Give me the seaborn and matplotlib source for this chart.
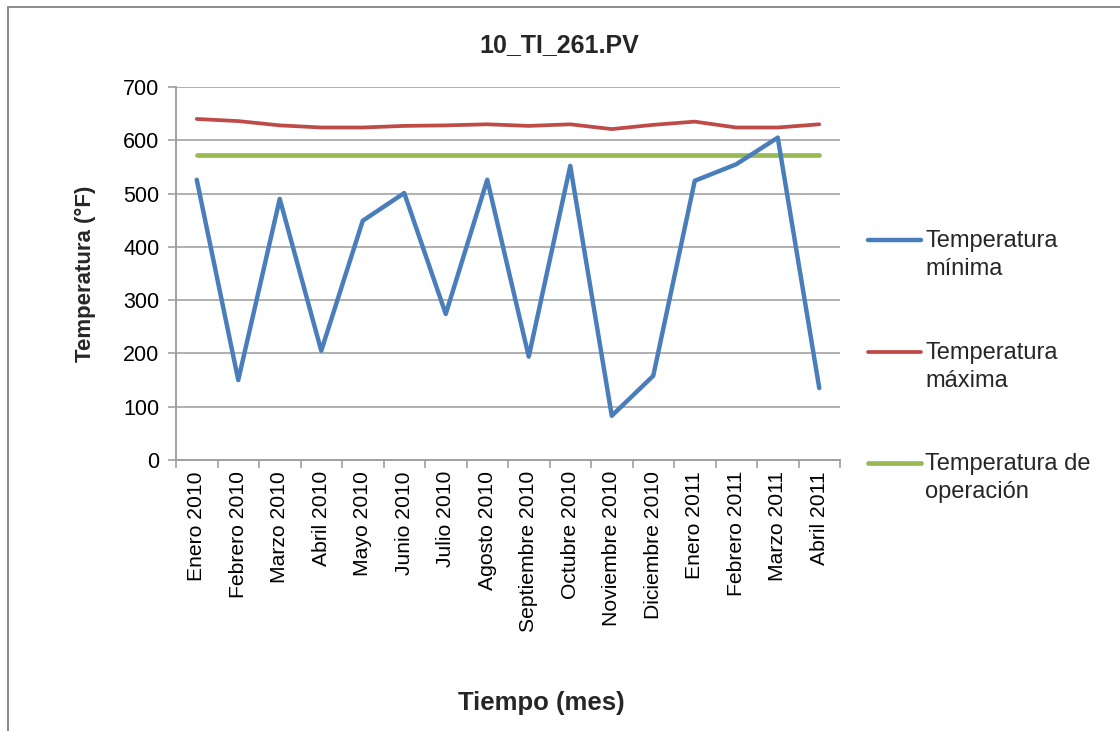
import matplotlib
matplotlib.use("Agg")
import matplotlib.pyplot as plt
from matplotlib.lines import Line2D
from matplotlib.patches import Rectangle
import seaborn as sns
import pandas as pd

# Monthly readings for tag 10_TI_261.PV
meses = ["Enero 2010", "Febrero 2010", "Marzo 2010", "Abril 2010", "Mayo 2010",
         "Junio 2010", "Julio 2010", "Agosto 2010", "Septiembre 2010",
         "Octubre 2010", "Noviembre 2010", "Diciembre 2010", "Enero 2011",
         "Febrero 2011", "Marzo 2011", "Abril 2011"]
temp_minima = [526, 150, 490, 205, 449, 501, 274, 526, 194, 552, 83, 158,
               524, 555, 605, 135]
temp_maxima = [640, 636, 628, 624, 624, 627, 628, 630, 627, 630, 621, 629,
               635, 624, 624, 630]
temp_operacion = [573] * len(meses)

series_names = ["Temperatura\nmínima", "Temperatura\nmáxima",
                "Temperatura de\noperación"]
series_colors = ["#4a7ebb", "#be4b48", "#98b954"]
series_widths = [3.2, 2.7, 3.4]

y_ticks = [0, 100, 200, 300, 400, 500, 600, 700]

df = pd.DataFrame({
    "mes": meses * 3,
    "idx": list(range(len(meses))) * 3,
    "valor": temp_minima + temp_maxima + temp_operacion,
    "serie": ([series_names[0]] * len(meses) + [series_names[1]] * len(meses)
              + [series_names[2]] * len(meses)),
})

sns.set_theme(style="white")
plt.rcParams["font.family"] = ["Liberation Sans", "DejaVu Sans"]

W, H = 1120, 731
fig = plt.figure(figsize=(W / 100, H / 100), dpi=100)
ax = fig.add_axes([176 / W, 1 - 460 / H, (840 - 176) / W, (460 - 87) / H])

# draw green first, then red, then blue on top
for name, color, lw in reversed(list(zip(series_names, series_colors, series_widths))):
    sub = df[df["serie"] == name]
    sns.lineplot(data=sub, x="idx", y="valor", color=color, linewidth=lw,
                 ax=ax, legend=False, solid_capstyle="round")

ax.set_xlim(-0.5, len(meses) - 0.5)
ax.set_ylim(0, 700)
ax.set_yticks(y_ticks)
ax.set_yticklabels([str(v) for v in y_ticks], fontsize=15.5, color="#000000")
ax.set_xticks(range(len(meses)))
ax.set_xticklabels(meses, rotation=90, fontsize=15.2, color="#000000")
ax.set_xticks([i - 0.5 for i in range(len(meses) + 1)], minor=True)
ax.tick_params(axis="x", which="major", length=0, pad=8)
ax.tick_params(axis="x", which="minor", length=6, color="#a0a0a0", width=1.2,
               direction="out", bottom=True)
ax.tick_params(axis="y", length=6, color="#a0a0a0", width=1.2, direction="out",
               left=True, pad=6)
ax.yaxis.grid(True, color="#b0b0b0", linewidth=1.4)
ax.xaxis.grid(False)
ax.set_axisbelow(True)
for side in ["top", "right"]:
    ax.spines[side].set_visible(False)
for side in ["left", "bottom"]:
    ax.spines[side].set_color("#a0a0a0")
    ax.spines[side].set_linewidth(1.4)
ax.set_xlabel("")
ax.set_ylabel("Temperatura (°F)", fontsize=16, fontweight="bold")
ax.yaxis.set_label_coords((96 - 176) / (840 - 176), 0.5)

fig.text(559 / W, 1 - 45 / H, "10_TI_261.PV", fontsize=18, fontweight="bold",
         ha="center", va="center")
fig.text(541 / W, 1 - 703 / H, "Tiempo (mes)", fontsize=18.5, fontweight="bold",
         ha="center", va="center")

# legend on the right
legend_y = [240, 352, 463]
for name, color, lw, yy in zip(series_names, series_colors, series_widths, legend_y):
    fig.add_artist(Line2D([868 / W, 921 / W], [1 - yy / H, 1 - yy / H],
                          color=color, linewidth=lw, transform=fig.transFigure))
    for k, line in enumerate(name.split("\n")):
        fig.text(925 / W, 1 - (yy + 1 + 28 * k) / H, line, fontsize=17,
                 ha="left", va="center")

# outer chart border
fig.add_artist(Rectangle((8 / W, -0.05), 1.2, 1 - 7 / H + 0.05,
                         transform=fig.transFigure, fill=False,
                         edgecolor="#8c8c8c", linewidth=1.4))

fig.savefig("out.png", dpi=100)
